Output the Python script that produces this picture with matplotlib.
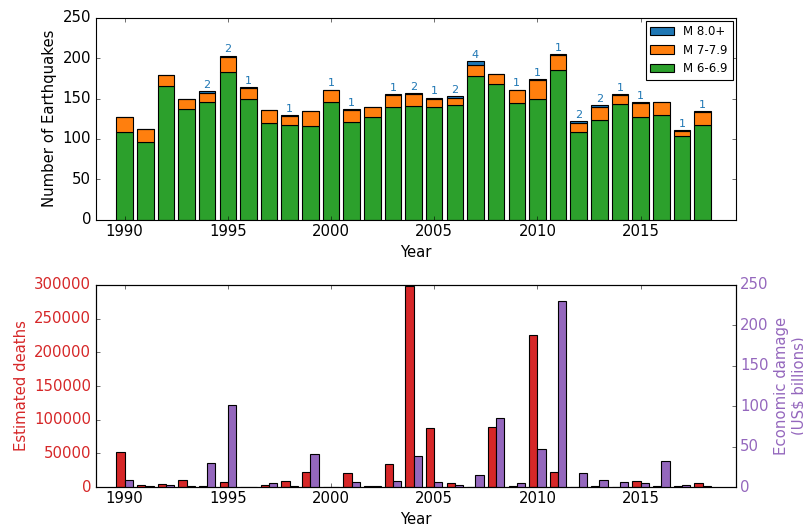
import numpy as np
import matplotlib
matplotlib.use('Agg')
import matplotlib.pyplot as plt

## Yearly earthquake counts and impacts
years = list(range(1990, 2019))
m8_plus = [0, 0, 0, 0, 2, 2, 1, 0, 1, 0, 1, 1, 0, 1, 2, 1, 2, 4, 0, 1, 1, 1, 2, 2, 1, 1, 0, 1, 1]
m7 = [18, 16, 13, 12, 11, 18, 14, 16, 11, 18, 14, 15, 13, 14, 14, 10, 9, 14, 12, 16, 23, 19, 12, 17, 11, 18, 16, 6, 16]
m6 = [109, 96, 166, 137, 146, 183, 149, 120, 117, 116, 146, 121, 127, 140, 141, 140, 142, 178, 168, 144, 150, 185,
      108, 123, 143, 127, 130, 104, 117]
deaths = [52056, 3210, 3920, 10096, 1634, 7980, 589, 3069, 9430, 22662, 231, 21357, 1685, 33819, 298101, 87992,
          6605, 712, 88708, 1790, 226050, 21942, 689, 1572, 756, 9624, 1339, 1012, 5239]
damage = [9, 1.7, 2, 1, 30, 101, 0.5, 4.6, 1, 41, 0.5, 6.7, 1, 7.9, 38.4, 6.2, 3, 14.5, 85.5, 5.5, 47, 230,
          17.8, 8.7, 6.7, 5.5, 32.7, 2.1, 1.7]

plt.style.use('classic')
plt.rcParams['font.size'] = 13.4
plt.rcParams['figure.facecolor'] = 'white'
plt.rcParams['savefig.facecolor'] = 'white'
plt.rcParams['axes.formatter.useoffset'] = False

fig = plt.figure(figsize=(803 / 80., 526 / 80.), dpi=80)
ax0 = fig.add_axes([0.1192, 0.5823, 0.7968, 0.3840])
ax1 = fig.add_axes([0.1192, 0.0741, 0.7968, 0.3841])

x = np.array(years)
m6 = np.array(m6)
m7 = np.array(m7)
m8_plus = np.array(m8_plus)

## Top: stacked counts
ax0.bar(x, m6, width=0.8, color='#2ca02c', edgecolor='k', label='M 6-6.9')
ax0.bar(x, m7, width=0.8, bottom=m6, color='#ff7f0e', edgecolor='k', label='M 7-7.9')
ax0.bar(x, m8_plus, width=0.8, bottom=m6 + m7, color='#1f77b4', edgecolor='k', label='M 8.0+')
for xi, tot, n in zip(x, m6 + m7 + m8_plus, m8_plus):
  if n > 0:
    ax0.text(xi, tot + 1.5, str(n), color='#1f77b4', fontsize=10, ha='center', va='bottom')

ax0.set_xlim(1988.6, 2019.6)
ax0.set_ylim(0, 250)
ax0.set_ylabel('Number of Earthquakes')
ax0.set_xlabel('Year')
handles, labels = ax0.get_legend_handles_labels()
ax0.legend(handles[::-1], labels[::-1], loc='upper right', fontsize=10.6, handlelength=2.0,
           borderaxespad=0.25, labelspacing=0.45)

## Bottom: deaths and economic damage on twin axes
ax1.bar(x - 0.4, deaths, width=0.4, align='edge', color='#d62728', edgecolor='k')
ax1.set_xlim(1988.6, 2019.6)
ax1.set_ylim(0, 300000)
ax1.set_ylabel('Estimated deaths', color='#d62728')
ax1.set_xlabel('Year')
ax1.tick_params(axis='y', labelcolor='#d62728', right=False)

ax2 = ax1.twinx()
ax2.bar(x, damage, width=0.4, align='edge', color='#9467bd', edgecolor='k')
ax2.set_xlim(1988.6, 2019.6)
ax2.set_ylim(0, 250)
ax2.set_ylabel('Economic damage\n(US\\$ billions)', color='#9467bd', multialignment='center')
ax2.tick_params(axis='y', labelcolor='#9467bd')

fig.savefig('out.png', dpi=80)
